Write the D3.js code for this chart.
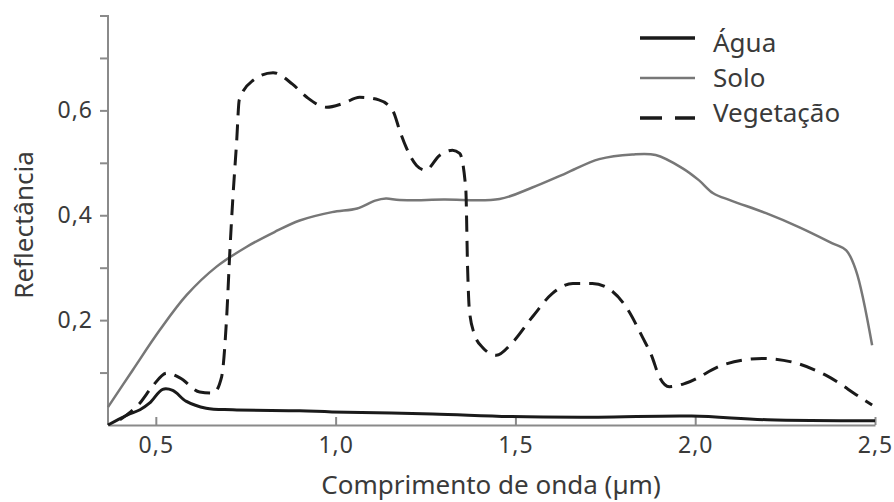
<!DOCTYPE html>
<html>
<head>
<meta charset="utf-8">
<script src="https://cdn.jsdelivr.net/npm/d3@7"></script>
<style>
  body { margin: 0; background: #fff; }
  text { font-family: "Noto Sans", sans-serif; fill: #3a3a3a; }
</style>
</head>
<body>
<svg id="chart" width="894" height="502"></svg>
<script>
// wavelength (µm), reflectance
const agua = [
  [0.367, 0.0], [0.42, 0.019], [0.456, 0.029], [0.483, 0.042], [0.519, 0.068],
  [0.547, 0.066], [0.585, 0.045], [0.64, 0.032], [0.714, 0.029], [0.9, 0.027],
  [0.99, 0.025], [1.27, 0.021], [1.49, 0.016], [1.73, 0.015], [1.99, 0.017],
  [2.2, 0.01], [2.5, 0.008]
];
const solo = [
  [0.367, 0.034], [0.436, 0.105], [0.511, 0.181], [0.586, 0.248], [0.669, 0.302],
  [0.753, 0.340], [0.83, 0.368], [0.9, 0.390], [0.99, 0.406], [1.06, 0.413],
  [1.11, 0.428], [1.14, 0.432], [1.178, 0.429], [1.3, 0.43], [1.456, 0.431],
  [1.547, 0.453], [1.64, 0.48], [1.733, 0.507], [1.825, 0.516], [1.89, 0.515],
  [1.964, 0.49], [2.01, 0.467], [2.05, 0.442], [2.1, 0.428], [2.197, 0.404],
  [2.29, 0.377], [2.38, 0.347], [2.42, 0.333], [2.447, 0.295], [2.492, 0.152]
];
const vegetacao = [
  [0.4, 0.01], [0.43, 0.025], [0.456, 0.042], [0.492, 0.075], [0.53, 0.099],
  [0.567, 0.09], [0.622, 0.063], [0.66, 0.061], [0.683, 0.092], [0.697, 0.206],
  [0.706, 0.333], [0.714, 0.43], [0.725, 0.543], [0.732, 0.62], [0.77, 0.657],
  [0.826, 0.672], [0.88, 0.65], [0.92, 0.625], [0.975, 0.606], [1.02, 0.613],
  [1.067, 0.625], [1.12, 0.62], [1.16, 0.598], [1.178, 0.562], [1.196, 0.53],
  [1.225, 0.495], [1.25, 0.486], [1.289, 0.514], [1.325, 0.524], [1.345, 0.518],
  [1.362, 0.45], [1.367, 0.3], [1.372, 0.219], [1.385, 0.175], [1.41, 0.147],
  [1.447, 0.133], [1.49, 0.156], [1.547, 0.206], [1.603, 0.251], [1.66, 0.27],
  [1.714, 0.27], [1.752, 0.263], [1.808, 0.225], [1.853, 0.168], [1.88, 0.13],
  [1.9, 0.092], [1.928, 0.073], [1.975, 0.08], [2.075, 0.114], [2.186, 0.127],
  [2.27, 0.12], [2.363, 0.095], [2.456, 0.054], [2.492, 0.038]
];
const xTicks = [0.5, 1.0, 1.5, 2.0, 2.5];
const yTicks = [0.1, 0.2, 0.3, 0.4, 0.5, 0.6, 0.7];
const yLabelled = [0.2, 0.4, 0.6];
const legendNames = ["Água", "Solo", "Vegetação"];

const svg = d3.select("#chart");
const fmt = d => d3.format(".1f")(d).replace(".", ",");

const x = d3.scaleLinear().domain([0.367, 2.5]).range([108, 875]);
const y = d3.scaleLinear().domain([0, 0.78]).range([425, 16]);

// y axis
const yAxis = svg.append("g")
  .attr("transform", `translate(${x.range()[0]},0)`)
  .call(d3.axisLeft(y).tickValues(yTicks).tickSize(8).tickSizeOuter(8)
    .tickFormat(d => yLabelled.some(v => Math.abs(v - d) < 1e-9) ? fmt(d) : ""));
yAxis.selectAll("path, line").attr("stroke", "#8a8a8a").attr("stroke-width", 2);
yAxis.selectAll("text").style("font-size", "23px").style("letter-spacing", "1px")
  .attr("x", -15).attr("fill", null);
yAxis.select(".domain").attr("d", `M-8,${y.range()[1]}H0V${y.range()[0]}`);

// x axis
const xAxis = svg.append("g")
  .attr("transform", `translate(0,${y.range()[0]})`)
  .call(d3.axisBottom(x).tickValues(xTicks).tickSize(-8).tickSizeOuter(0).tickFormat(fmt));
xAxis.selectAll("path, line").attr("stroke", "#8a8a8a").attr("stroke-width", 2);
xAxis.selectAll("text").style("font-size", "23px").style("letter-spacing", "1px")
  .attr("y", 12).attr("fill", null);

svg.append("text")
  .attr("x", 491).attr("y", 494)
  .attr("text-anchor", "middle")
  .style("font-size", "26px")
  .text("Comprimento de onda (µm)");

svg.append("text")
  .attr("transform", "translate(33,225) rotate(-90)")
  .attr("text-anchor", "middle")
  .style("font-size", "26px")
  .text("Reflectância");

const smooth = d3.line()
  .x(d => x(d[0]))
  .y(d => y(d[1]))
  .curve(d3.curveCatmullRom.alpha(0.5));

const sharp = d3.line()
  .x(d => x(d[0]))
  .y(d => y(d[1]))
  .curve(d3.curveMonotoneX);

const series = [
  { data: solo, stroke: "#777", width: 2.5, dash: null, line: smooth },
  { data: agua, stroke: "#1a1a1a", width: 3, dash: null, line: smooth },
  { data: vegetacao, stroke: "#1a1a1a", width: 3, dash: "16,9", line: sharp }
];

series.forEach(s => {
  svg.append("path")
    .datum(s.data)
    .attr("fill", "none")
    .attr("stroke", s.stroke)
    .attr("stroke-width", s.width)
    .attr("stroke-dasharray", s.dash)
    .attr("d", s.line);
});

// legend
const legendStyles = [
  { stroke: "#1a1a1a", width: 3.5, dash: null },
  { stroke: "#777", width: 2.5, dash: null },
  { stroke: "#1a1a1a", width: 3.5, dash: "22,13" }
];
const legend = svg.append("g").attr("transform", "translate(640,0)");
legendNames.forEach((name, i) => {
  legend.append("line")
    .attr("x1", 0).attr("x2", 55)
    .attr("y1", 38 + i * 40).attr("y2", 38 + i * 40)
    .attr("stroke", legendStyles[i].stroke)
    .attr("stroke-width", legendStyles[i].width)
    .attr("stroke-dasharray", legendStyles[i].dash);
  legend.append("text")
    .attr("x", 73).attr("y", 52 + i * 35)
    .style("font-size", "26px")
    .text(name);
});
</script>
</body>
</html>
